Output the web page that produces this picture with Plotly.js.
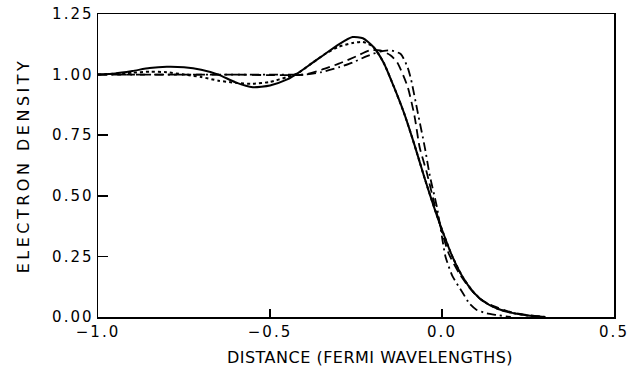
<!DOCTYPE html>
<html>
<head>
<meta charset="utf-8">
<script src="https://cdn.plot.ly/plotly-3.0.1.min.js"></script>
<style>
html,body{margin:0;padding:0;background:#fff;}
#chart{width:641px;height:385px;}
#chart .ytitle{letter-spacing:3.5px;}
#chart .xtitle{letter-spacing:0.5px;transform:translateX(14px);}
#chart .xtick text,#chart .ytick text{letter-spacing:2px;}
</style>
</head>
<body>
<div id="chart"></div>
<script>
// Curve 1 (solid)
const solidX = [-1.0,-0.95,-0.9,-0.85,-0.8,-0.75,-0.7,-0.65,-0.6,-0.55,-0.5,-0.45,-0.42,-0.38,-0.345,-0.3,-0.26,-0.23,-0.2,-0.17,-0.14,-0.11,-0.08,-0.05,-0.02,0.0,0.03,0.06,0.09,0.12,0.16,0.2,0.25,0.3];
const solidY = [1.0,1.005,1.015,1.027,1.032,1.03,1.02,1.0,0.968,0.948,0.955,0.98,1.005,1.045,1.08,1.125,1.155,1.15,1.115,1.05,0.95,0.84,0.71,0.57,0.44,0.36,0.25,0.165,0.105,0.065,0.035,0.018,0.006,0.0];
// Curve 2 (dotted)
const dotX = [-1.0,-0.9,-0.85,-0.8,-0.75,-0.7,-0.65,-0.6,-0.55,-0.5,-0.45,-0.42,-0.38,-0.34,-0.3,-0.26,-0.23,-0.2,-0.17,-0.14,-0.11,-0.08,-0.05,-0.02,0.0,0.03,0.06,0.09,0.12,0.16,0.2,0.25,0.3];
const dotY = [1.0,1.008,1.012,1.01,1.0,0.99,0.975,0.966,0.962,0.97,0.99,1.005,1.045,1.085,1.115,1.13,1.135,1.115,1.05,0.95,0.84,0.71,0.57,0.44,0.36,0.25,0.165,0.105,0.065,0.035,0.018,0.006,0.0];
// Curve 3 (dashed)
const dashX = [-1.0,-0.9,-0.8,-0.7,-0.6,-0.5,-0.4,-0.35,-0.3,-0.25,-0.21,-0.18,-0.15,-0.13,-0.1,-0.08,-0.065,-0.045,-0.02,0.0,0.02,0.05,0.08,0.11,0.15,0.2,0.25,0.3];
const dashY = [1.0,1.0,1.0,1.0,1.0,0.998,1.0,1.02,1.045,1.075,1.1,1.1,1.08,1.05,0.95,0.83,0.7,0.6,0.455,0.35,0.26,0.18,0.12,0.075,0.045,0.02,0.008,0.0];
// Curve 4 (dash-dot)
const dashDotX = [-1.0,-0.9,-0.8,-0.7,-0.6,-0.5,-0.4,-0.35,-0.3,-0.26,-0.22,-0.18,-0.15,-0.12,-0.1,-0.09,-0.07,-0.05,-0.035,-0.015,0.0,0.01,0.03,0.06,0.08,0.1,0.13,0.16,0.2];
const dashDotY = [1.0,1.0,1.0,1.0,1.0,1.0,1.0,1.01,1.03,1.05,1.075,1.095,1.1,1.085,1.03,0.98,0.84,0.7,0.58,0.455,0.33,0.25,0.17,0.1,0.055,0.03,0.015,0.008,0.0];

const xTicks = [-1.0,-0.5,0.0,0.5];
const xTickText = ['\u22121.0','\u22120.5','0.0','0.5'];
const yTicks = [0,0.25,0.5,0.75,1.0,1.25];
const yTickText = ['0.00','0.25','0.50','0.75','1.00','1.25'];

const ln = (dash,w)=>({color:'#000',width:w,dash:dash,shape:'spline',smoothing:0.6});
const traces = [
  {x:solidX,y:solidY,mode:'lines',line:ln('solid',2),hoverinfo:'skip'},
  {x:dotX,y:dotY,mode:'lines',line:ln('dot',2),hoverinfo:'skip'},
  {x:dashX,y:dashY,mode:'lines',line:ln('9px,5px',1.8),hoverinfo:'skip'},
  {x:dashDotX,y:dashDotY,mode:'lines',line:ln('9px,4px,2px,4px',1.8),hoverinfo:'skip'}
];
const font = {family:'"DejaVu Sans", "Liberation Sans", sans-serif',size:15,color:'#000'};
const layout = {
  width:641,height:385,
  margin:{l:98,r:27,t:14,b:68,pad:0},
  paper_bgcolor:'#fff',plot_bgcolor:'#fff',
  showlegend:false,
  font:font,
  xaxis:{range:[-1.0,0.5],tickvals:xTicks,ticktext:xTickText,ticks:'inside',ticklen:8,tickwidth:1.5,tickcolor:'#000',
    showline:true,linecolor:'#000',linewidth:1.5,mirror:true,showgrid:false,zeroline:false,
    title:{text:'DISTANCE (FERMI WAVELENGTHS)',font:{...font,size:16},standoff:12}},
  yaxis:{range:[0,1.25],tickvals:yTicks,ticktext:yTickText,ticks:'inside',ticklen:10,tickwidth:1.5,tickcolor:'#000',
    showline:true,linecolor:'#000',linewidth:1.5,mirror:true,showgrid:false,zeroline:false,
    title:{text:'ELECTRON DENSITY',font:{...font,size:16},standoff:26}}
};
Plotly.newPlot('chart',traces,layout,{staticPlot:true,displayModeBar:false});
</script>
</body>
</html>
